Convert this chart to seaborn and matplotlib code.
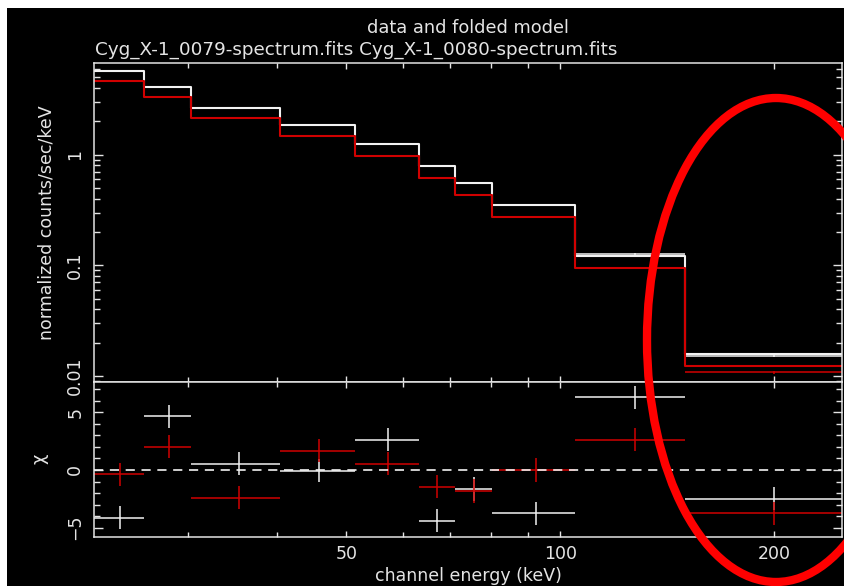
import numpy as np
import pandas as pd
import matplotlib
matplotlib.use("Agg")
import matplotlib.pyplot as plt
import seaborn as sns
from matplotlib.ticker import FixedLocator, FixedFormatter, NullFormatter
from matplotlib.patches import Rectangle, Ellipse

# ---------------- data ----------------
bin_edges = [22.1, 26.0, 30.3, 40.3, 51.4, 63.2, 71.0, 80.1, 104.9, 149.5, 250.0]

white_model = [5.70, 4.12, 2.64, 1.87, 1.24, 0.79, 0.56, 0.352, 0.122, 0.0158]
white_data = [5.70, 4.12, 2.64, 1.87, 1.24, 0.79, 0.56, 0.352, 0.126, 0.0152]
white_err = [0.04, 0.03, 0.02, 0.015, 0.012, 0.009, 0.007, 0.005, 0.0025, 0.0005]

red_model = [4.60, 3.32, 2.13, 1.47, 0.97, 0.61, 0.43, 0.273, 0.094, 0.0122]
red_data = [4.60, 3.32, 2.13, 1.47, 0.97, 0.61, 0.43, 0.273, 0.095, 0.0108]
red_err = [0.035, 0.025, 0.016, 0.012, 0.010, 0.007, 0.006, 0.004, 0.002, 0.0004]

white_chi = [-4.13, 4.65, 0.55, -0.06, 2.63, -4.39, -1.65, -3.75, 6.30, -2.48]
red_chi = [-0.38, 2.02, -2.40, 1.65, 0.55, -1.47, -1.82, 0.00, 2.63, -3.75]
chi_err = [1.0] * 10

x_major = [50, 100, 200]
x_major_labels = ["50", "100", "200"]
x_minor = [30, 40, 60, 70, 80, 90]
top_y_major = [0.01, 0.1, 1]
top_y_labels = ["0.01", "0.1", "1"]
bot_y_major = [-5, 0, 5]
bot_y_labels = ["\u22125", "0", "5"]
bot_y_minor = [-4, -3, -2, -1, 1, 2, 3, 4, 6, 7]

title_text = "data and folded model"
subtitle_text = "Cyg_X-1_0079-spectrum.fits Cyg_X-1_0080-spectrum.fits"
ylabel_top = "normalized counts/sec/keV"
ylabel_bot = "\u03c7"
xlabel_text = "channel energy (keV)"

# ---------------- style ----------------
FG = "#e4e4e4"
WHITE = "#f2f2f2"
RED = "#d00000"
FS = 12.5
sns.set_theme(style="ticks", rc={
    "axes.facecolor": "black",
    "figure.facecolor": "white",
    "axes.edgecolor": FG,
    "axes.linewidth": 1.1,
    "xtick.color": FG,
    "ytick.color": FG,
    "text.color": FG,
    "axes.labelcolor": FG,
})
plt.rcParams["font.family"] = ["DejaVu Sans"]

W, H = 844, 586
fig = plt.figure(figsize=(W / 100, H / 100), dpi=100)
# black canvas with thin white strip on top/left, as in the reference
fig.patches.append(Rectangle((7 / W, 0), 1 - 7 / W, 1 - 8 / H,
                             transform=fig.transFigure, facecolor="black",
                             edgecolor="none", zorder=-10))

L, R = 94 / W, 842 / W
top_y0, top_y1 = 1 - 381.7 / H, 1 - 62.7 / H
bot_y0, bot_y1 = 1 - 536.7 / H, 1 - 381.7 / H
ax1 = fig.add_axes([L, top_y0, R - L, top_y1 - top_y0])
ax2 = fig.add_axes([L, bot_y0, R - L, bot_y1 - bot_y0])

edges = np.array(bin_edges)
lo, hi = edges[:-1], edges[1:]
centers = (lo + hi) / 2
xerr = [centers - lo, hi - centers]


def step_df(vals):
    return pd.DataFrame({"E": edges, "v": list(vals) + [vals[-1]]})


# ---------------- top panel ----------------
for data, err, model, col in [(white_data, white_err, white_model, WHITE),
                              (red_data, red_err, red_model, RED)]:
    ax1.errorbar(centers, data, xerr=xerr, yerr=err, fmt="none",
                 ecolor=col, elinewidth=1.1)
    sns.lineplot(data=step_df(model), x="E", y="v", drawstyle="steps-post",
                 color=col, linewidth=1.5, estimator=None, sort=False, ax=ax1)

ax1.set_xscale("log")
ax1.set_yscale("log")
ax1.set_xlim(22.1, 248.9)
ax1.set_ylim(0.00888, 6.78)
ax1.set_xlabel("")
ax1.set_ylabel(ylabel_top, fontsize=FS, labelpad=8)
ax1.yaxis.set_major_locator(FixedLocator(top_y_major))
ax1.yaxis.set_major_formatter(FixedFormatter(top_y_labels))
minors = [m * d for d in [0.001, 0.01, 0.1, 1] for m in range(2, 10)]
ax1.yaxis.set_minor_locator(FixedLocator(minors))
ax1.yaxis.set_minor_formatter(NullFormatter())

# ---------------- bottom panel ----------------
for chi, col in [(white_chi, WHITE), (red_chi, RED)]:
    ax2.errorbar(centers, chi, xerr=xerr, yerr=chi_err, fmt="none",
                 ecolor=col, elinewidth=1.1)
ax2.axhline(0, color=WHITE, linestyle=(0, (5.5, 4.0)), linewidth=1.2, zorder=5)
ax2.set_xscale("log")
ax2.set_xlim(22.1, 248.9)
ax2.set_ylim(-5.78, 7.65)
ax2.set_ylabel(ylabel_bot, fontsize=FS + 0.5, labelpad=13)
ax2.set_xlabel(xlabel_text, fontsize=FS, labelpad=3)
ax2.yaxis.set_major_locator(FixedLocator(bot_y_major))
ax2.yaxis.set_major_formatter(FixedFormatter(bot_y_labels))
ax2.yaxis.set_minor_locator(FixedLocator(bot_y_minor))

for ax in (ax1, ax2):
    ax.set_facecolor("black")
    ax.xaxis.set_major_locator(FixedLocator(x_major))
    ax.xaxis.set_minor_locator(FixedLocator(x_minor))
    ax.xaxis.set_minor_formatter(NullFormatter())
    ax.tick_params(which="both", direction="in", top=True, right=True,
                   colors=FG, width=1.0)
    ax.tick_params(axis="x", which="major", length=4.5)
    ax.tick_params(axis="x", which="minor", length=3.3)
    ax.tick_params(axis="y", which="major", length=6.3)
    ax.tick_params(axis="y", which="minor", length=4.0)
    ax.tick_params(axis="y", labelsize=FS, labelrotation=90, pad=7)
    ax.tick_params(axis="x", labelsize=FS, pad=6)
    for s in ax.spines.values():
        s.set_visible(True)
        s.set_color(FG)
    for lab in ax.get_yticklabels():
        lab.set_va("center")

ax1.xaxis.set_major_formatter(NullFormatter())
ax2.xaxis.set_major_formatter(FixedFormatter(x_major_labels))

fig.text(468 / W, 1 - 28 / H, title_text, ha="center", va="center",
         fontsize=FS + 0.3, color=FG)
fig.text(95 / W, 1 - 50 / H, subtitle_text, ha="left", va="center",
         fontsize=FS + 0.7, color=FG)

# red highlight ellipse drawn on the reference
fig.patches.append(Ellipse((776 / W, 1 - 340 / H), 258 / W, 484 / H,
                           transform=fig.transFigure, fill=False,
                           edgecolor="#ff0000", linewidth=6, zorder=20))

fig.savefig("out.png", dpi=100, facecolor=fig.get_facecolor())
